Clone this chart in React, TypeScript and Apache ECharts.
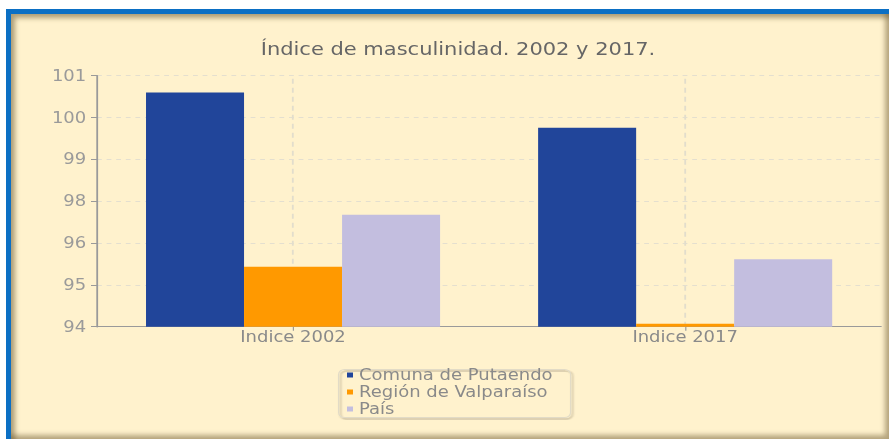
import React, { useEffect, useRef } from "react";
import * as echarts from "echarts";

const categories = ["Indice 2002", "Indice 2017"];
const comunaPutaendo = [100.53, 99.55];
const regionValparaiso = [95.67, 94.08];
const pais = [97.12, 95.88];
const seriesNames = ["Comuna de Putaendo", "Región de Valparaíso", "País"];
const titleText = "Índice de masculinidad. 2002 y 2017.";

const SX = 1.2; // horizontal stretch of the reference picture
const W = 889 / SX;
const X = (px: number) => px / SX;

export default function App() {
  const ref = useRef<HTMLDivElement>(null);
  useEffect(() => {
    if (!ref.current) return;
    const chart = echarts.init(ref.current, undefined, { renderer: "svg" });
    const font = "DejaVu Sans";
    chart.setOption({
      animation: false,
      backgroundColor: "transparent",
      title: {
        text: titleText,
        left: X(452),
        textAlign: "center",
        top: 35,
        textStyle: { fontFamily: font, fontSize: 17.5, fontWeight: "normal", color: "#666666" },
      },
      grid: { left: X(97), right: W - X(881), top: 75.7, bottom: 439 - 326.7, containLabel: false },
      legend: {
        data: seriesNames,
        orient: "vertical",
        left: X(347),
        top: 367,
        itemWidth: 5,
        itemHeight: 5,
        itemGap: 1,
        icon: "rect",
        padding: 0,
        textStyle: { fontFamily: font, fontSize: 15, color: "#8a8a8a", lineHeight: 16 },
      },
      graphic: [
        {
          type: "rect",
          left: X(338),
          top: 369,
          shape: { width: X(570) - X(338), height: 48, r: 5 },
          style: {
            fill: "transparent",
            stroke: "#e2dbc6",
            lineWidth: 1,
            shadowColor: "rgba(90,80,60,0.4)",
            shadowOffsetX: 1.5,
            shadowOffsetY: 1.5,
            shadowBlur: 1.5,
          },
          silent: true,
          z: -1,
        },
      ],
      xAxis: {
        type: "category",
        data: categories,
        axisLine: { show: true, lineStyle: { color: "#9a9a9a", width: 1 } },
        axisTick: { show: true, alignWithLabel: true, length: 4, lineStyle: { color: "#9a9a9a" } },
        axisLabel: { fontFamily: font, fontSize: 15, color: "#8a8a8a", margin: 3 },
        splitLine: { show: false },
      },
      yAxis: {
        type: "value",
        min: 94,
        max: 101,
        interval: 7 / 6,
        axisLine: { show: true, lineStyle: { color: "#9a9a9a", width: 1.5 } },
        axisTick: { show: true, length: 5, lineStyle: { color: "#9a9a9a" } },
        axisLabel: {
          fontFamily: font,
          fontSize: 15,
          color: "#9a9a9a",
          margin: 9,
          formatter: (v: number) => String(Math.round(v)),
        },
        splitLine: { show: true, lineStyle: { color: "#e4dfcf", type: [4, 4], width: 1.2 } },
      },
      series: [
        {
          name: "guides",
          type: "line",
          data: [null, null],
          showSymbol: false,
          silent: true,
          z: 0,
          markLine: {
            silent: true,
            z: 0,
            symbol: "none",
            label: { show: false },
            lineStyle: { color: "#e2ddcc", type: [5, 4], width: 1.5 },
            data: categories.map((c) => ({ xAxis: c })),
          },
        },
        {
          name: seriesNames[0],
          type: "bar",
          data: comunaPutaendo,
          barGap: "0%",
          barCategoryGap: "25%",
          itemStyle: { color: "#21459a" },
          z: 5,
        },
        {
          name: seriesNames[1],
          type: "bar",
          data: regionValparaiso,
          barGap: "0%",
          barCategoryGap: "25%",
          itemStyle: { color: "#ff9900" },
          z: 5,
        },
        {
          name: seriesNames[2],
          type: "bar",
          data: pais,
          barGap: "0%",
          barCategoryGap: "25%",
          itemStyle: { color: "#c3bedf" },
          z: 5,
        },
      ],
    });
    return () => chart.dispose();
  }, []);

  return (
    <div
      style={{
        position: "absolute",
        left: 0,
        top: 0,
        width: 889,
        height: 439,
        overflow: "hidden",
        background: "#ffffff",
      }}
    >
      <div style={{ position: "absolute", left: 6, top: 9, width: 900, height: 450, background: "#0b6fc4" }} />
      <div
        style={{
          position: "absolute",
          left: 11,
          top: 14,
          width: 878,
          height: 425,
          background: "#fff2cd",
          boxShadow:
            "inset 4px 4px 5px rgba(110,90,50,0.55), inset -4px -4px 5px rgba(110,90,50,0.5)",
        }}
      />
      <div
        ref={ref}
        style={{
          position: "absolute",
          left: 0,
          top: 0,
          width: W,
          height: 439,
          transform: `scaleX(${SX})`,
          transformOrigin: "0 0",
        }}
      />
    </div>
  );
}
